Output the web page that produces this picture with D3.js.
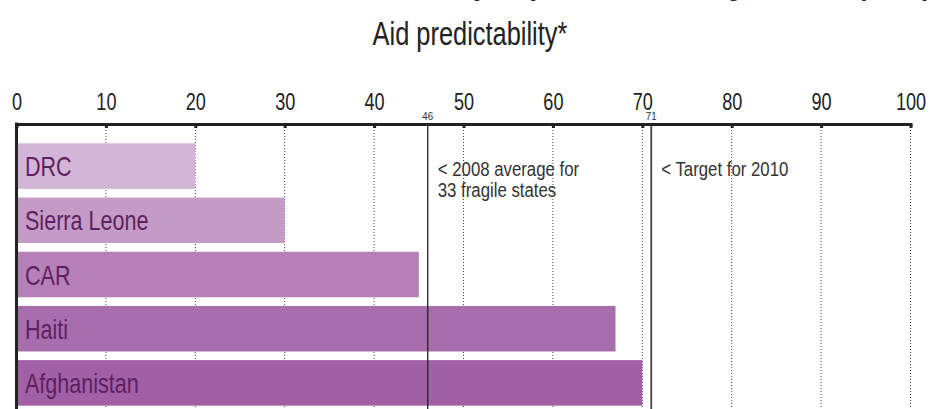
<!DOCTYPE html>
<html>
<head>
<meta charset="utf-8">
<script src="https://cdn.jsdelivr.net/npm/d3@7/dist/d3.min.js"></script>
<style>
  html, body { margin: 0; padding: 0; background: #fff; }
  svg { display: block; font-family: "Liberation Sans", Arial, sans-serif; }
</style>
</head>
<body>
<svg id="chart" width="930" height="409"></svg>
<script>
// Aid predictability by country (% of scheduled aid disbursed)
const categories = ["DRC", "Sierra Leone", "CAR", "Haiti", "Afghanistan"];
const values = [20, 30, 45, 67, 70];
const barColors = ["#d3b6d7", "#c49bc7", "#b480b7", "#a86dac", "#a160a6"];
const tickValues = [0, 10, 20, 30, 40, 50, 60, 70, 80, 90, 100];
const refValues = [46, 71];
const refNotes = [["< 2008 average for", "33 fragile states"], ["< Target for 2010"]];

const svg = d3.select("#chart");
const W = 930, H = 409;
const axisY = 124;
const narrow = 0.77; // horizontal squeeze for a condensed look

const x = d3.scaleLinear().domain([0, 100]).range([16.5, 910.5]);
const y = d3.scaleBand().domain(categories).range([139, 410])
  .paddingInner(0.16).paddingOuter(0.08);

// Condensed text helper: position via transform, squeeze horizontally
function label(parent, tx, ty, str, size, k = narrow) {
  return parent.append("text")
    .attr("transform", `translate(${tx},${ty}) scale(${k},1)`)
    .attr("font-size", size)
    .text(str);
}

// Titles (top line runs off the top edge)
label(svg, 470, -6, "Share of aid disbursed as scheduled by major donors in fragile states (2008)", 33)
  .attr("text-anchor", "middle").attr("font-weight", "bold").attr("fill", "#222");
label(svg, 470, 45, "Aid predictability*", 33)
  .attr("text-anchor", "middle").attr("fill", "#222");

// Dotted gridlines
svg.append("g").selectAll("line")
  .data(tickValues.filter(d => d > 0))
  .join("line")
  .attr("x1", d => x(d)).attr("x2", d => x(d))
  .attr("y1", axisY).attr("y2", H)
  .attr("stroke", "#444").attr("stroke-width", 1)
  .attr("stroke-dasharray", "1,2");

// Bars
svg.append("g").selectAll("rect")
  .data(categories)
  .join("rect")
  .attr("x", x(0))
  .attr("y", d => y(d))
  .attr("width", (d, i) => x(values[i]) - x(0))
  .attr("height", y.bandwidth())
  .attr("fill", (d, i) => barColors[i]);

// Bar labels
const barLabels = svg.append("g").attr("fill", "#5e1f61");
categories.forEach(c => {
  label(barLabels, 25, y(c) + y.bandwidth() / 2 + 10, c, 28);
});

// Reference lines
svg.append("g").selectAll("line")
  .data(refValues)
  .join("line")
  .attr("x1", d => x(d)).attr("x2", d => x(d))
  .attr("y1", axisY).attr("y2", H)
  .attr("stroke", (d, i) => i === 0 ? "#222" : "#444")
  .attr("stroke-width", (d, i) => i === 0 ? 1.3 : 1.8);

const refLabels = svg.append("g").attr("fill", "#333");
refValues.forEach(v => {
  label(refLabels, x(v), 120, String(v), 11.5, 0.85).attr("text-anchor", "middle");
});

// Reference notes
const notes = svg.append("g").attr("fill", "#333");
refValues.forEach((v, i) => {
  refNotes[i].forEach((line, j) => {
    label(notes, x(v) + 10, 176 + j * 21, line, 21, 0.8);
  });
});

// Top axis
const axis = d3.axisTop(x)
  .tickValues(tickValues)
  .tickSizeInner(-4)
  .tickSizeOuter(0)
  .tickPadding(14)
  .tickFormat(d3.format("d"));

const ax = svg.append("g")
  .attr("transform", `translate(0,${axisY})`)
  .call(axis);
ax.attr("font-family", null).attr("font-size", null);
ax.select(".domain")
  .attr("stroke", "#222").attr("stroke-width", 3)
  .attr("stroke-linecap", "square");
ax.selectAll(".tick line").attr("stroke", "#222").attr("stroke-width", 3);
ax.selectAll(".tick text")
  .attr("font-size", 23.5).attr("fill", "#222")
  .attr("transform", `scale(${narrow},1)`);

// Left axis line
svg.append("line")
  .attr("x1", x(0)).attr("x2", x(0))
  .attr("y1", axisY - 1.5).attr("y2", H)
  .attr("stroke", "#222").attr("stroke-width", 3);
</script>
</body>
</html>
